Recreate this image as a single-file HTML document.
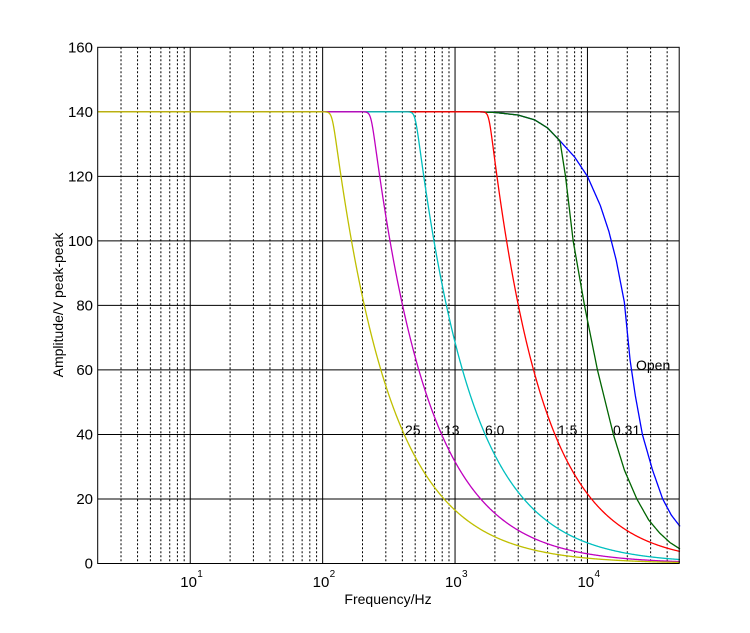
<!DOCTYPE html>
<html><head><meta charset="utf-8"><style>
html,body{margin:0;padding:0;background:#fff;}
svg{display:block;font-family:"Liberation Sans",Arial,sans-serif;}
</style></head><body>
<svg id="s" width="750" height="633" viewBox="0 0 750 633" xmlns="http://www.w3.org/2000/svg">
<rect width="750" height="633" fill="#fff"/>
<g id="grid"></g>
<g id="curves" fill="none" stroke-width="1.3"></g>
<rect x="97.7" y="47.3" width="581.5" height="516.2" fill="none" stroke="#000" stroke-width="1"/>
<g id="labels" font-size="14" fill="#000"></g>
<g font-size="14" fill="#000">
<text x="405" y="435">25</text>
<text x="444" y="435">13</text>
<text x="485" y="435">6.0</text>
<text x="558" y="435">1.5</text>
<text x="613" y="435">0.31</text>
<text x="636" y="370">Open</text>
</g>
<text x="388" y="604" font-size="14" text-anchor="middle">Frequency/Hz</text>
<text transform="translate(63,305) rotate(-90)" font-size="14" text-anchor="middle">Amplitude/V peak-peak</text>
</svg>
<script>
var L=97.7,T=47.3,B=563.5,R=679.2,D=132.4,lmin=Math.log10(2);
function X(f){return L+(Math.log10(f)-lmin)*D;}
function Y(a){return B-a*(B-T)/160;}
var ns="http://www.w3.org/2000/svg";
function el(p,t,at,txt){var e=document.createElementNS(ns,t);for(var k in at)e.setAttribute(k,at[k]);if(txt!==undefined)e.textContent=txt;p.appendChild(e);return e;}
var g=document.getElementById('grid'),lb=document.getElementById('labels');
for(var dec=0;dec<=4;dec++){for(var m=1;m<=9;m++){var f=m*Math.pow(10,dec);if(f<=2||f>=5e4)continue;var x=X(f);
 if(m==1){el(g,'line',{x1:x,y1:T,x2:x,y2:B,stroke:'#000','stroke-width':1});}
 else el(g,'line',{x1:x,y1:T,x2:x,y2:B,stroke:'#000','stroke-width':1,'stroke-dasharray':'2,2'});}}
for(var a=20;a<160;a+=20){el(g,'line',{x1:L,y1:Y(a),x2:R,y2:Y(a),stroke:'#000','stroke-width':1});}
for(var a=0;a<=160;a+=20){el(lb,'text',{x:93,y:Y(a)+5,'text-anchor':'end','font-size':15},String(a));}
for(var d=1;d<=4;d++){var x=X(Math.pow(10,d));el(lb,'text',{x:x-10,y:587,'font-size':15},'10');el(lb,'text',{x:x+7,y:577,'font-size':10},String(d));}
var c=document.getElementById('curves');
function knee(f0,n,f){var p=40;return 140/Math.pow(1+Math.pow(f/f0,p*n),1/p);}
function pts(list,f){
 if(f<=list[0][0])return list[0][1];
 for(var i=1;i<list.length;i++){if(f<=list[i][0]){var a=list[i-1],b=list[i];var t=(Math.log(f)-Math.log(a[0]))/(Math.log(b[0])-Math.log(a[0]));return a[1]+(b[1]-a[1])*t;}}
 return list[list.length-1][1];}
var early=[[2,140],[1500,140],[2000,139.8],[3000,139],[4000,137.5],[5000,135],[6200,131]];
var blue=early.concat([[8000,126],[10000,120],[12500,111],[14500,103],[16500,94],[19000,81],[21000,63],[23000,52],[26000,40],[31000,29],[37000,20],[43000,15],[50000,11.5]]);
var green=early.concat([[6830,120],[7800,100],[9500,80],[11900,60],[15700,40],[19000,29],[23600,20],[29000,13.5],[35000,9.5],[42000,6.5],[50000,4.5]]);
function path(fn,col){var d='';for(var i=0;i<=900;i++){var f=2*Math.pow(10,Math.log10(2.5e4)*i/900);var a=fn(f);d+=(i?'L':'M')+X(f).toFixed(2)+','+Y(a).toFixed(2);}el(c,'path',{d:d,stroke:col});}
path(function(f){return pts(blue,f);},'#0000ff');
path(function(f){return pts(green,f);},'#006400');
path(function(f){return knee(1800,1.09,f);},'#ff0000');
path(function(f){return knee(500,1.03,f);},'#00bfbf');
path(function(f){return knee(232,1.02,f);},'#bf00bf');
path(function(f){return knee(118,1.0,f);},'#bfbf00');
</script>
</body></html>
